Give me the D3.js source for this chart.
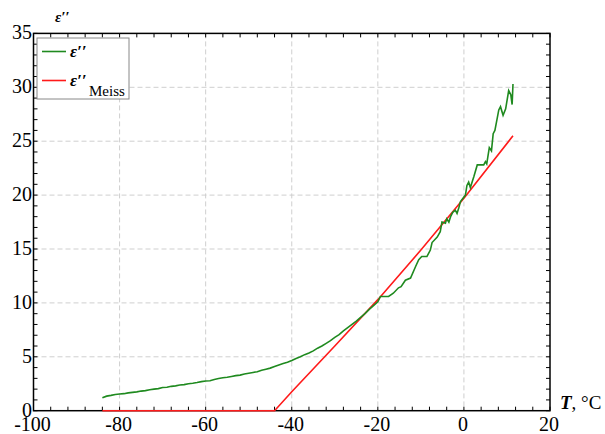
<!DOCTYPE html>
<html lang="en">
<head>
<meta charset="UTF-8">
<title>eps'' vs T</title>
<script src="https://cdn.jsdelivr.net/npm/d3@7"></script>
<style>
body { margin: 0; background: #fff; }
svg { display: block; }
.grid line { stroke: #cfcfcf; stroke-dasharray: 5,3; stroke-width: 1; }
</style>
</head>
<body>
<svg width="605" height="434"></svg>
<script>
// measured eps'' (green)
const measT = [-84,-83,-82,-81,-80,-79,-78,-77,-76,-75,-74,-73,-72,-71,-70,-69,-68,-67,-66,-65,
  -64,-63,-62,-61,-60,-59,-58,-57,-56,-55,-54,-53,-52,-51,-50,-49,-48,-47,-46,-45,
  -44,-43,-42,-41,-40,-39,-38,-37,-36,-35,-34,-33,-32,-31,-30,-29,-28,-27,-26,-25,
  -24,-23,-22,-21,-20,-19.4,-18.6,-17.5,-16.4,-15.2,-14.6,-13.6,-12.4,-11.2,-10.5,-9.8,-8.6,-7.8,-7.4,-6.2,
  -5.5,-5.1,-4.3,-4.0,-3.5,-3.1,-2.6,-2.0,-1.6,-1.2,-0.8,0.35,0.7,1.1,1.5,2.3,3.1,4.6,5.0,5.3,
  5.9,6.4,6.8,7.2,8.1,8.5,9.1,9.7,10.4,10.9,11.2,11.4];
const measEps = [1.20,1.35,1.42,1.50,1.55,1.58,1.65,1.70,1.75,1.82,1.86,1.95,2.00,2.05,2.15,2.18,2.26,2.30,2.38,2.42,
  2.50,2.55,2.62,2.70,2.75,2.78,2.90,2.98,3.05,3.10,3.18,3.25,3.30,3.40,3.48,3.55,3.62,3.75,3.85,3.95,
  4.10,4.25,4.38,4.50,4.65,4.85,5.00,5.20,5.35,5.55,5.80,6.00,6.25,6.50,6.80,7.05,7.40,7.70,8.00,8.30,
  8.65,9.00,9.40,9.75,10.1,10.6,10.6,10.6,10.9,11.4,11.5,12.1,12.3,13.4,14.0,14.3,14.3,14.9,15.6,16.1,
  16.6,17.5,17.4,17.8,17.5,18.0,18.4,18.6,18.3,18.8,19.4,20.0,20.9,21.2,20.7,21.7,22.8,22.8,23.1,22.9,
  24.4,24.1,25.7,26.0,27.9,28.2,27.4,28.0,29.7,29.3,28.4,30.3];

// Meiss model (red)
const meissT = [-84,-44,-40,-30,-20,-10,0,11.4];
const meissEps = [0,0,1.75,6.0,10.3,14.9,19.7,25.5];

const xTicks = [-100,-80,-60,-40,-20,0,20];
const yTicks = [0,5,10,15,20,25,30,35];

const serif = "'Liberation Serif', 'DejaVu Serif', serif";

const svg = d3.select("svg");
const pl = 33.5, pr = 550, pt = 33.4, pb = 410.7;

const x = d3.scaleLinear().domain([-100, 20]).range([pl, pr]);
const y = d3.scaleLinear().domain([0, 35]).range([pb, pt]);

// grid
const grid = svg.append("g").attr("class", "grid");
grid.selectAll(".gx").data(xTicks.slice(1, -1)).enter().append("line")
  .attr("x1", d => x(d)).attr("x2", d => x(d)).attr("y1", pt).attr("y2", pb);
grid.selectAll(".gy").data(yTicks.slice(1, -1)).enter().append("line")
  .attr("y1", d => y(d)).attr("y2", d => y(d)).attr("x1", pl).attr("x2", pr);

// inward ticks on all four sides
const tickG = svg.append("g").attr("stroke", "#000").attr("stroke-width", 1);
const xMinor = d3.range(-100, 20.1, 4);
const yMinor = d3.range(0, 35.1, 1);
xMinor.forEach(t => {
  tickG.append("line").attr("x1", x(t)).attr("x2", x(t)).attr("y1", pb).attr("y2", pb - 4);
  tickG.append("line").attr("x1", x(t)).attr("x2", x(t)).attr("y1", pt).attr("y2", pt + 4);
});
yMinor.forEach(v => {
  tickG.append("line").attr("y1", y(v)).attr("y2", y(v)).attr("x1", pl).attr("x2", pl + 4);
  tickG.append("line").attr("y1", y(v)).attr("y2", y(v)).attr("x1", pr).attr("x2", pr - 4);
});

// frame
svg.append("rect").attr("x", pl).attr("y", pt).attr("width", pr - pl).attr("height", pb - pt)
  .attr("fill", "none").attr("stroke", "#000").attr("stroke-width", 1.5);

// curves
const line = d3.line().x(d => x(d[0])).y(d => y(d[1]));
svg.append("path").datum(meissT.map((t, i) => [t, meissEps[i]]))
  .attr("d", line).attr("fill", "none").attr("stroke", "#ff1a1a").attr("stroke-width", 1.6);
svg.append("path").datum(measT.map((t, i) => [t, measEps[i]]))
  .attr("d", line).attr("fill", "none").attr("stroke", "#1f8a1f").attr("stroke-width", 1.6);

// tick labels
svg.selectAll(".xl").data(xTicks).enter().append("text")
  .style("font-family", serif).style("font-size", "20px")
  .attr("x", d => x(d) - 1).attr("y", 431)
  .attr("text-anchor", "middle").text(d => d);
svg.selectAll(".yl").data(yTicks).enter().append("text")
  .style("font-family", serif).style("font-size", "20px")
  .attr("x", 32).attr("y", d => y(d) + 6)
  .attr("text-anchor", "end").text(d => d);

// axis titles
svg.append("text").attr("x", 55).attr("y", 22).style("font-family", serif)
  .style("font-size", "15px").style("font-style", "italic").style("font-weight", "bold").text("ε′′");
const xt = svg.append("text").attr("x", 560).attr("y", 409)
  .style("font-family", serif).style("font-size", "19px");
xt.append("tspan").style("font-style", "italic").style("font-weight", "bold").text("T");
xt.append("tspan").text(", °C");

// legend
const lg = svg.append("g");
lg.append("rect").attr("x", 37).attr("y", 38).attr("width", 92).attr("height", 61)
  .attr("fill", "#fff").attr("stroke", "#888").attr("stroke-width", 1);
lg.append("line").attr("x1", 42).attr("x2", 66).attr("y1", 51.5).attr("y2", 51.5)
  .attr("stroke", "#1f8a1f").attr("stroke-width", 1.6);
lg.append("line").attr("x1", 42).attr("x2", 66).attr("y1", 80.5).attr("y2", 80.5)
  .attr("stroke", "#ff1a1a").attr("stroke-width", 1.6);
lg.append("text").attr("x", 70).attr("y", 57).style("font-family", serif)
  .style("font-size", "17px").style("font-style", "italic").style("font-weight", "bold").text("ε′′");
const l2 = lg.append("text").attr("x", 70).attr("y", 86)
  .style("font-family", serif).style("font-size", "17px");
l2.append("tspan").style("font-style", "italic").style("font-weight", "bold").text("ε′′");
l2.append("tspan").attr("x", 89).attr("y", 96).style("font-size", "15px").text("Meiss");
</script>
</body>
</html>
